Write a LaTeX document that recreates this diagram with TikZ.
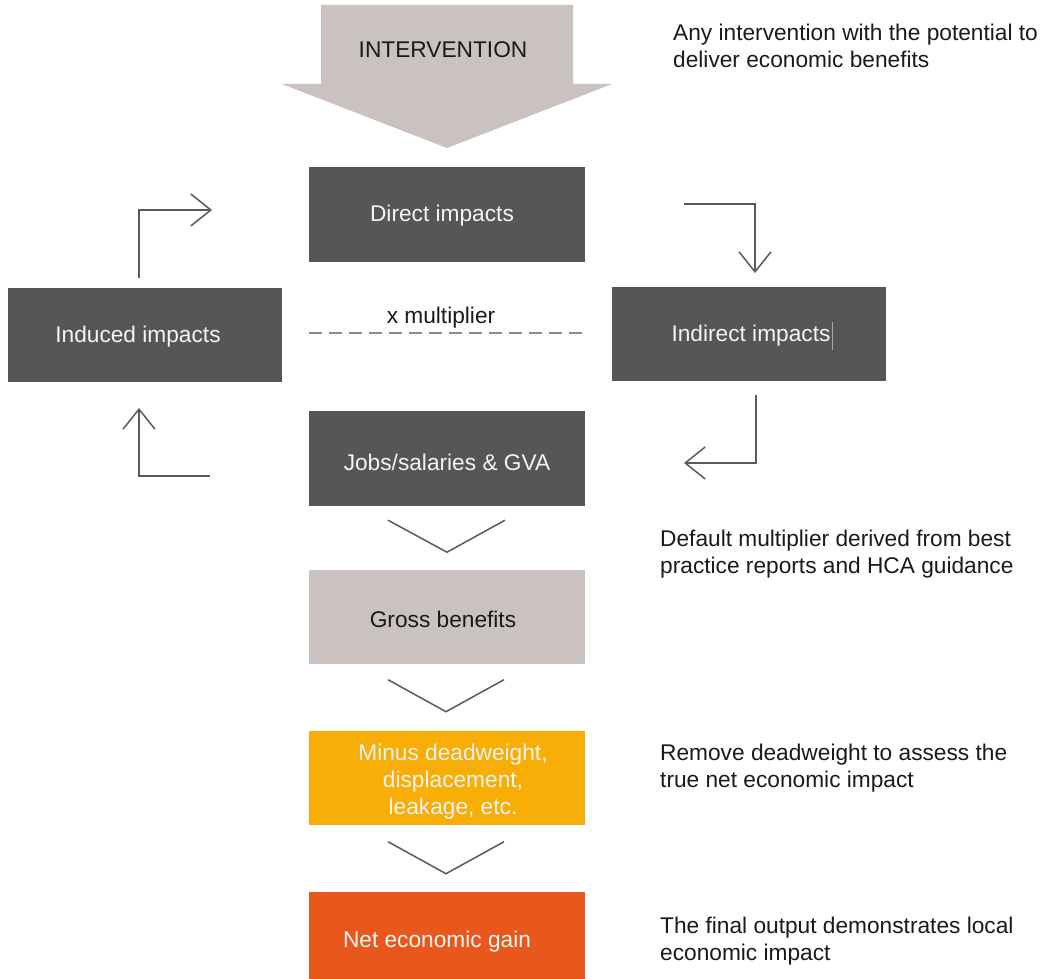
\documentclass[tikz,border=0pt]{standalone}
\usepackage{fontspec}
\setmainfont{Liberation Sans}
\usetikzlibrary{arrows.meta,calc}
\definecolor{darkbox}{HTML}{575654}
\definecolor{greybox}{HTML}{C9C2BE}
\definecolor{amberbox}{HTML}{F8AD07}
\definecolor{redbox}{HTML}{E8581C}
\definecolor{linecol}{HTML}{5A5A5A}
\definecolor{txtdark}{HTML}{1A1A1A}
\definecolor{txtlight}{HTML}{F4F4F4}
\tikzset{
  box/.style={rectangle, inner sep=0pt, minimum width=276pt, minimum height=94pt, draw=none},
  lbl/.style={inner sep=0pt, font=\fontsize{22.7}{27}\selectfont},
  note/.style={lbl, align=left, anchor=west, text=txtdark},
  conn/.style={draw=linecol, line width=1.5pt},
  flowarrow/.style={conn, -{Straight Barb[length=20pt,width=32pt,line width=1.5pt]}},
  chev/.style={draw=linecol, line width=1.5pt, line join=miter}
}
\begin{document}
\begin{tikzpicture}[x=1pt,y=-1pt]
\useasboundingbox (0,0) rectangle (1042,979);
% intervention arrow
\fill[greybox] (321,5) -- (573,5) -- (573,84) -- (612,84) -- (447,148) -- (282,84) -- (321,84) -- cycle;
\node[lbl, text=txtdark] (intervention) at (443,50) {INTERVENTION};
% boxes
\node[box, fill=darkbox] (direct) at (447,214.5) {};
\node[lbl, text=txtlight] (directt) at (442,216) {Direct impacts};
\node[box, fill=darkbox, minimum width=274pt] (induced) at (145,335) {};
\node[lbl, text=txtlight] (inducedt) at (138,337) {Induced impacts};
\node[box, fill=darkbox, minimum width=274pt] (indirect) at (749,334) {};
\node[lbl, text=txtlight] (indirectt) at (751,336) {Indirect impacts};
\draw[gray!70, line width=0.8pt] (832,322) -- (832,350);
\node[box, fill=darkbox, minimum height=95pt] (jobs) at (447,458.5) {};
\node[lbl, text=txtlight] (jobst) at (447,462) {Jobs/salaries \& GVA};
\node[box, fill=greybox] (gross) at (447,616.5) {};
\node[lbl, text=txtdark] (grosst) at (443,619) {Gross benefits};
\node[box, fill=amberbox] (minus) at (447,777.5) {};
\node[lbl, text=txtlight, align=center] (minust) at (453,782) {Minus deadweight,\\displacement,\\leakage, etc.};
\node[box, fill=redbox, minimum height=88pt] (net) at (447,936) {};
\node[lbl, text=txtlight] (nett) at (437,942) {Net economic gain};
% multiplier
\node[lbl, text=txtdark] (mult) at (441,318) {x multiplier};
\draw[gray!90, line width=1.2pt, dash pattern=on 13pt off 7pt] (309,333) -- (585,333);
% loop connectors
\coordinate (a1) at (139,278);
\coordinate (a2) at (139,210);
\coordinate (a3) at (212,210);
\draw[flowarrow] (a1) -- (a2) -- (a3);
\coordinate (b1) at (684,204);
\coordinate (b2) at (755,204);
\coordinate (b3) at (755,273);
\draw[flowarrow] (b1) -- (b2) -- (b3);
\coordinate (c1) at (756,395);
\coordinate (c2) at (756,463);
\coordinate (c3) at (684,463);
\draw[flowarrow] (c1) -- (c2) -- (c3);
\coordinate (d1) at (210,476);
\coordinate (d2) at (139,476);
\coordinate (d3) at (139,408);
\draw[flowarrow] (d1) -- (d2) -- (d3);
% chevrons
\draw[chev] ($(jobs.south)+(-59,14)$) -- ++(59,32) -- ++(58,-32);
\draw[chev] ($(gross.south)+(-59,16)$) -- ++(58,32) -- ++(58,-32);
\draw[chev] ($(minus.south)+(-59,17)$) -- ++(58,32) -- ++(58,-32);
% notes
\node[note] (n1) at (673,45.5) {Any intervention with the potential to\\deliver economic benefits};
\node[note] (n2) at (660,554) {Default multiplier derived from best\\practice reports and HCA guidance};
\node[note] (n3) at (660,768) {Remove deadweight to assess the\\true net economic impact};
\node[note] (n4) at (660,941) {The final output demonstrates local\\economic impact};
\end{tikzpicture}
\end{document}
